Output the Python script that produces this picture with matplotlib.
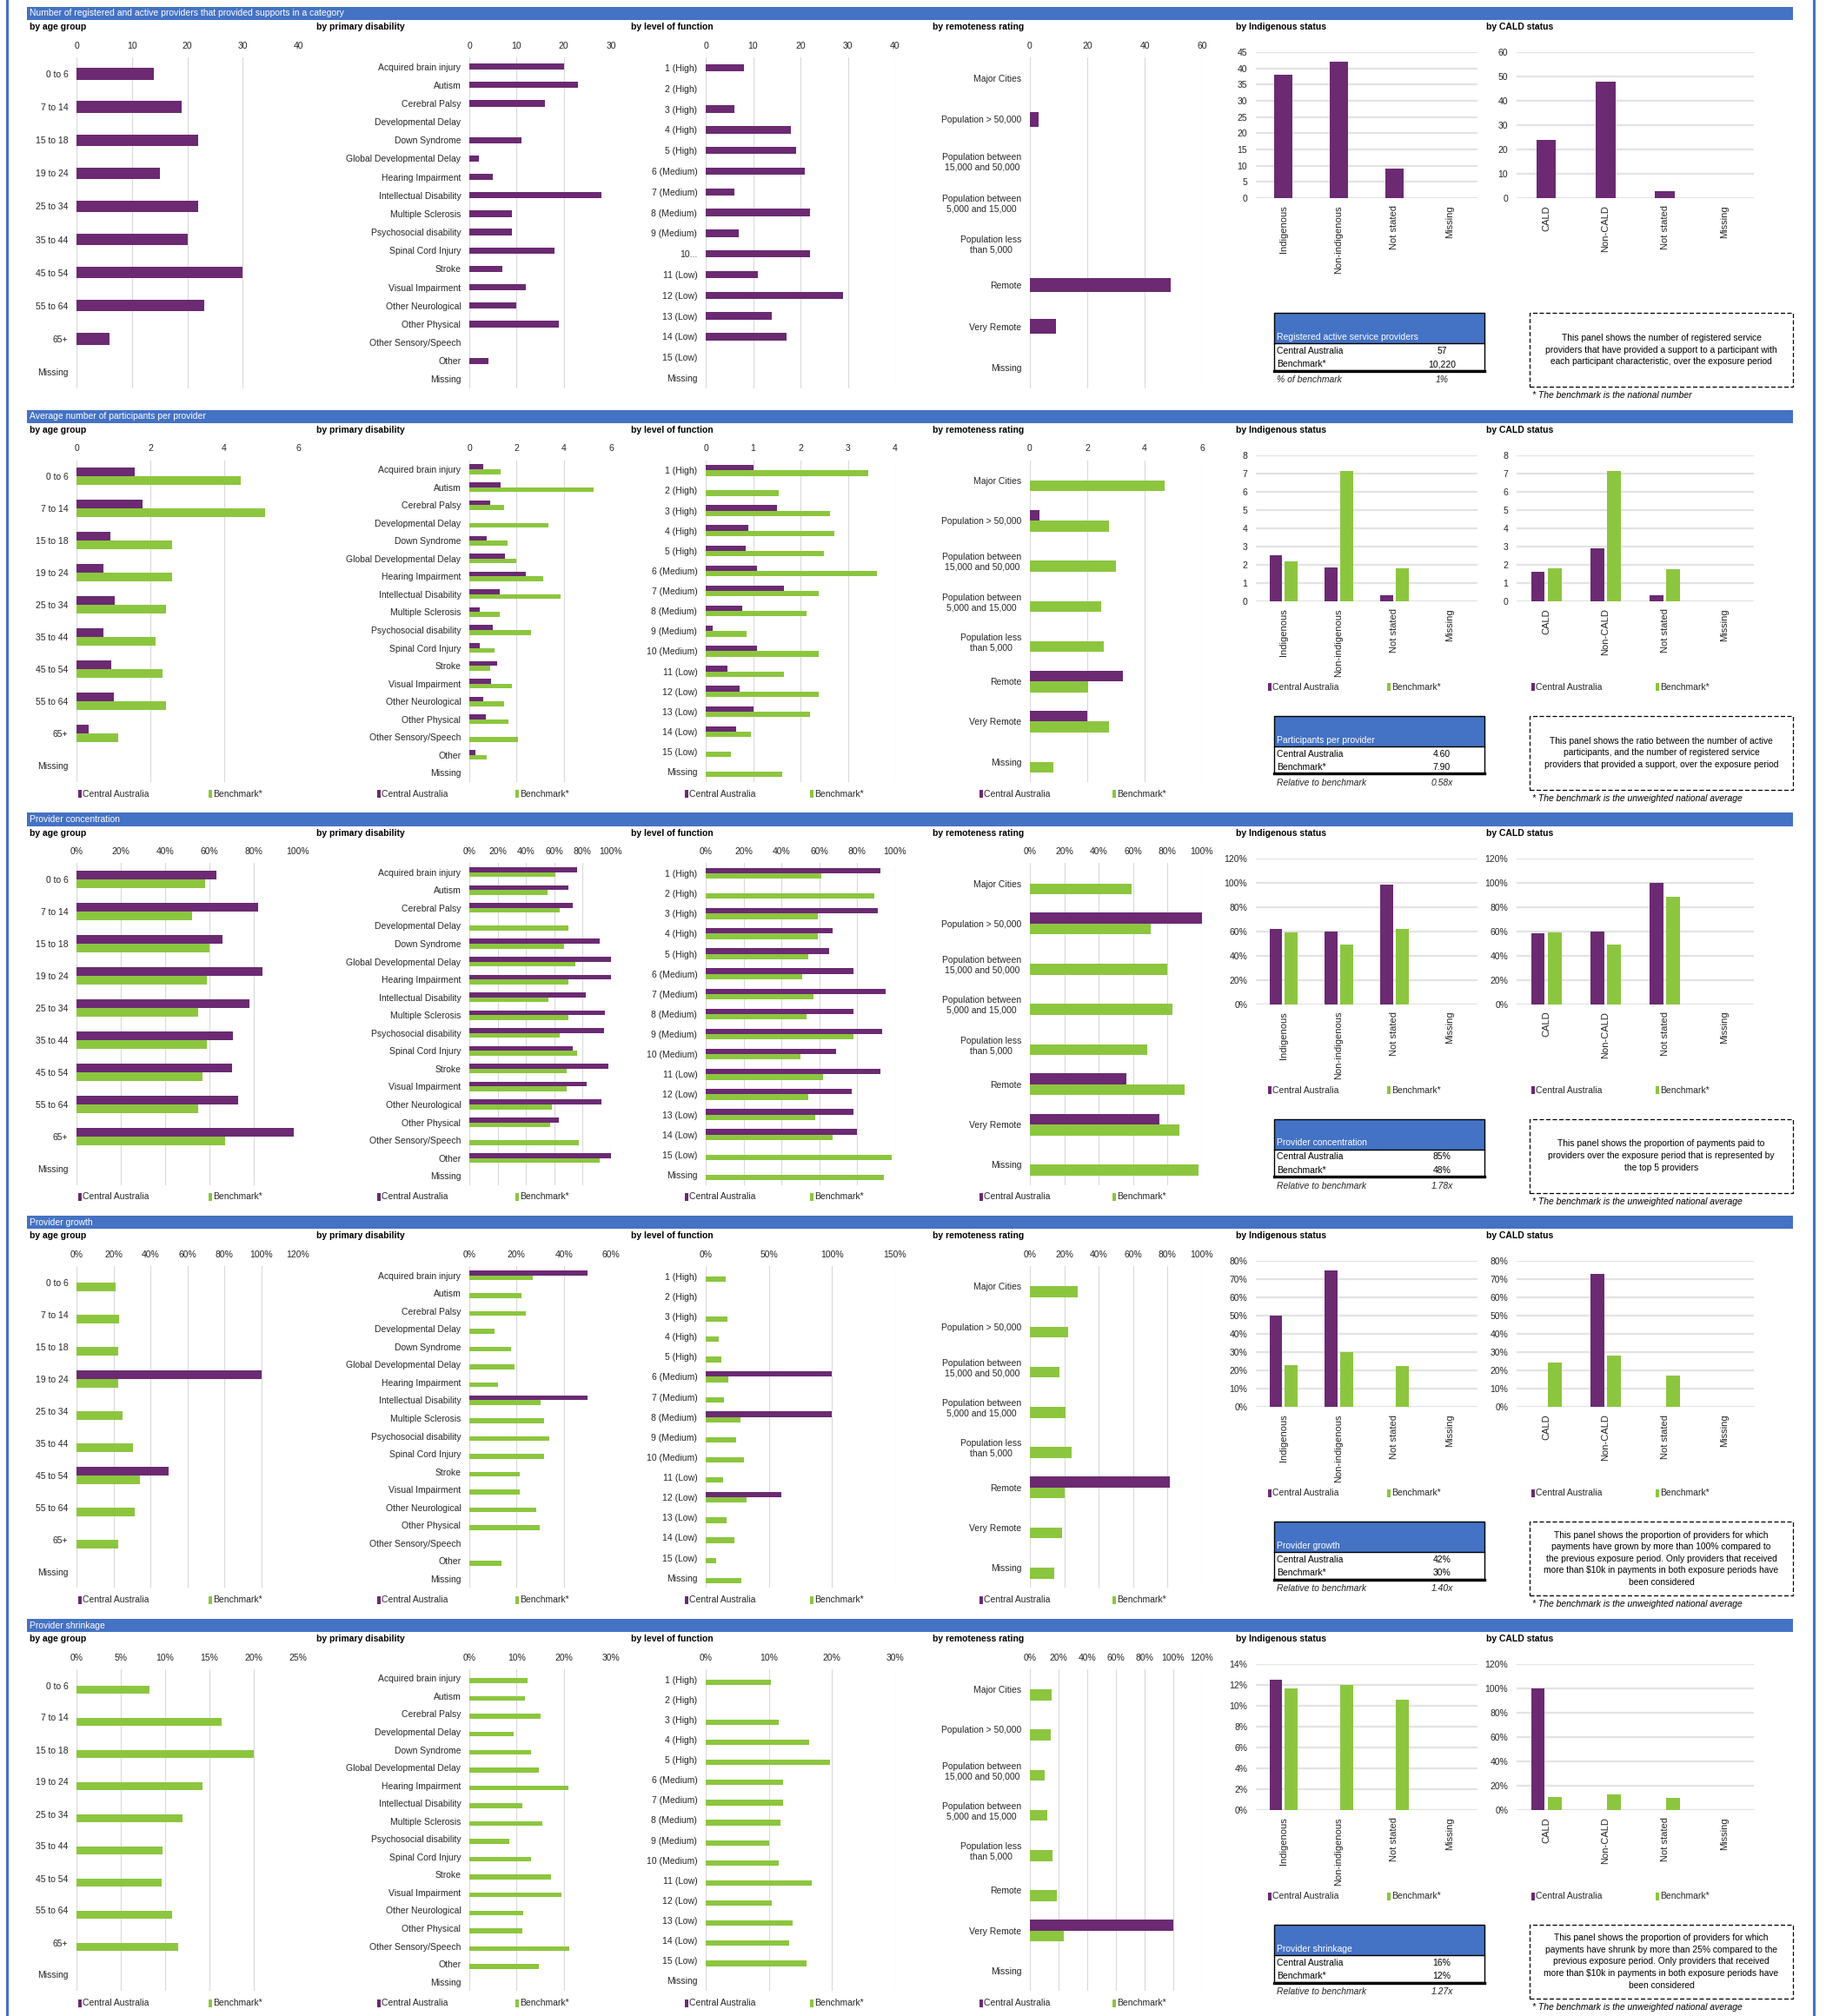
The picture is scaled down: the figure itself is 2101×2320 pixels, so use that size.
import numpy as np
import matplotlib.pyplot as plt
from matplotlib.patches import Rectangle
from matplotlib.lines import Line2D

plt.rcParams['font.family'] = ['Liberation Sans', 'DejaVu Sans']

W, H = 2101, 2320
PURPLE = '#6B2A72'
GREEN = '#8CC63F'
BLUE = '#4472C4'
GRID = '#D9D9D9'
TXT = '#262626'
FS = 7.5

# categories
AGE = ["0 to 6", "7 to 14", "15 to 18", "19 to 24", "25 to 34", "35 to 44",
       "45 to 54", "55 to 64", "65+", "Missing"]
DISABILITY = ["Acquired brain injury", "Autism", "Cerebral Palsy", "Developmental Delay",
              "Down Syndrome", "Global Developmental Delay", "Hearing Impairment",
              "Intellectual Disability", "Multiple Sclerosis", "Psychosocial disability",
              "Spinal Cord Injury", "Stroke", "Visual Impairment", "Other Neurological",
              "Other Physical", "Other Sensory/Speech", "Other", "Missing"]
LEVEL = ["1 (High)", "2 (High)", "3 (High)", "4 (High)", "5 (High)", "6 (Medium)",
         "7 (Medium)", "8 (Medium)", "9 (Medium)", "10 (Medium)", "11 (Low)", "12 (Low)",
         "13 (Low)", "14 (Low)", "15 (Low)", "Missing"]
LEVEL_ROW1 = ["1 (High)", "2 (High)", "3 (High)", "4 (High)", "5 (High)", "6 (Medium)",
              "7 (Medium)", "8 (Medium)", "9 (Medium)", "10...", "11 (Low)", "12 (Low)",
              "13 (Low)", "14 (Low)", "15 (Low)", "Missing"]
REMOTENESS = ["Major Cities", "Population > 50,000", "Population between\n15,000 and 50,000",
              "Population between\n5,000 and 15,000", "Population less\nthan 5,000",
              "Remote", "Very Remote", "Missing"]
INDIGENOUS = ["Indigenous", "Non-indigenous", "Not stated", "Missing"]
CALD = ["CALD", "Non-CALD", "Not stated", "Missing"]

# row 1 - number of registered and active providers
R1_AGE = [14, 19, 22, 15, 22, 20, 30, 23, 6, 0]
R1_DIS = [20, 23, 16, 0, 11, 2, 5, 28, 9, 9, 18, 7, 12, 10, 19, 0, 4, 0]
R1_LVL = [8, 0, 6, 18, 19, 21, 6, 22, 7, 22, 11, 29, 14, 17, 0, 0]
R1_REM = [0, 3, 0, 0, 0, 49, 9, 0]
R1_IND = [38, 42, 9, 0]
R1_CALD = [24, 48, 3, 0]

# row 2 - average participants per provider
R2_AGE_CA = [1.57, 1.79, 0.91, 0.72, 1.04, 0.74, 0.93, 1.0, 0.33, 0]
R2_AGE_BM = [4.45, 5.1, 2.58, 2.58, 2.42, 2.14, 2.33, 2.42, 1.12, 0]
R2_DIS_CA = [0.6, 1.33, 0.88, 0, 0.73, 1.51, 2.4, 1.28, 0.44, 1.0, 0.44, 1.16, 0.91, 0.6, 0.69, 0, 0.25, 0]
R2_DIS_BM = [1.33, 5.28, 1.48, 3.36, 1.62, 2.0, 3.14, 3.85, 1.27, 2.6, 1.07, 0.87, 1.8, 1.48, 1.65, 2.05, 0.74, 0]
R2_LVL_CA = [1.0, 0, 1.5, 0.89, 0.84, 1.09, 1.65, 0.77, 0.15, 1.09, 0.46, 0.72, 1.0, 0.64, 0, 0]
R2_LVL_BM = [3.43, 1.54, 2.62, 2.72, 2.49, 3.62, 2.38, 2.12, 0.86, 2.38, 1.65, 2.38, 2.2, 0.96, 0.53, 1.62]
R2_REM_CA = [0, 0.33, 0, 0, 0, 3.23, 2.0, 0]
R2_REM_BM = [4.69, 2.77, 3.0, 2.48, 2.57, 2.04, 2.75, 0.83]
R2_IND_CA = [2.53, 1.85, 0.33, 0]
R2_IND_BM = [2.2, 7.15, 1.8, 0]
R2_CALD_CA = [1.6, 2.87, 0.33, 0]
R2_CALD_BM = [1.8, 7.15, 1.77, 0]

# row 3 - provider concentration (%)
R3_AGE_CA = [63, 82, 66, 84, 78, 70.5, 70, 73, 98, 0]
R3_AGE_BM = [58, 52, 60, 59, 55, 59, 57, 55, 67, 0]
R3_DIS_CA = [76, 70, 73, 0, 92, 100, 100, 82, 96, 95, 73, 98, 83, 93, 63, 0, 100, 0]
R3_DIS_BM = [61, 55, 64, 70, 67, 75, 70, 56, 70, 64, 76, 69, 69, 58, 57, 77, 92, 0]
R3_LVL_CA = [92, 0, 91, 67, 65, 78, 95, 78, 93, 69, 92, 77, 78, 80, 0, 0]
R3_LVL_BM = [61, 89, 59, 59, 54, 51, 57, 53, 78, 50, 62, 54, 58, 67, 98, 94]
R3_REM_CA = [0, 100, 0, 0, 0, 56, 75, 0]
R3_REM_BM = [59, 70, 80, 83, 68, 90, 87, 98]
R3_IND_CA = [62, 60, 98, 0]
R3_IND_BM = [59, 49, 62, 0]
R3_CALD_CA = [58, 60, 100, 0]
R3_CALD_BM = [59, 49, 88, 0]

# row 4 - provider growth (%)
R4_AGE_CA = [0, 0, 0, 100, 0, 0, 50, 0, 0, 0]
R4_AGE_BM = [21, 23, 22.5, 22.5, 25, 30.5, 34.5, 31.5, 22.5, 0]
R4_DIS_CA = [50, 0, 0, 0, 0, 0, 0, 50, 0, 0, 0, 0, 0, 0, 0, 0, 0, 0]
R4_DIS_BM = [27, 22, 24, 10.5, 17.7, 19.2, 12, 30, 31.5, 34, 31.5, 21.5, 21.5, 28.5, 29.7, 0, 13.6, 0]
R4_LVL_CA = [0, 0, 0, 0, 0, 100, 0, 100, 0, 0, 0, 60, 0, 0, 0, 0]
R4_LVL_BM = [16, 0, 17, 10, 12.5, 18, 14.4, 27.4, 24, 30, 14, 32, 16.5, 23, 8, 28.4]
R4_REM_CA = [0, 0, 0, 0, 0, 81.5, 0, 0]
R4_REM_BM = [28, 22, 17, 20.5, 24, 20, 18.5, 14]
R4_IND_CA = [50, 75, 0, 0]
R4_IND_BM = [23, 30, 22.5, 0]
R4_CALD_CA = [0, 73, 0, 0]
R4_CALD_BM = [24.5, 28, 17.3, 0]

# row 5 - provider shrinkage (%)
R5_AGE_CA = [0, 0, 0, 0, 0, 0, 0, 0, 0, 0]
R5_AGE_BM = [8.2, 16.4, 20, 14.2, 12, 9.7, 9.6, 10.8, 11.5, 0]
R5_DIS_CA = [0, 0, 0, 0, 0, 0, 0, 0, 0, 0, 0, 0, 0, 0, 0, 0, 0, 0]
R5_DIS_BM = [12.4, 11.7, 15, 9.4, 13, 14.7, 21, 11.2, 15.4, 8.5, 13.1, 17.3, 19.6, 11.4, 11.2, 21.2, 14.7, 0]
R5_LVL_CA = [0, 0, 0, 0, 0, 0, 0, 0, 0, 0, 0, 0, 0, 0, 0, 0]
R5_LVL_BM = [10.3, 0, 11.5, 16.4, 19.7, 12.3, 12.2, 11.9, 10, 11.5, 16.8, 10.5, 13.7, 13.2, 16, 0]
R5_REM_CA = [0, 0, 0, 0, 0, 0, 100, 0]
R5_REM_BM = [15.3, 14.5, 10, 12.4, 16, 18.5, 23.7, 0]
R5_IND_CA = [12.5, 0, 0, 0]
R5_IND_BM = [11.7, 12, 10.6, 0]
R5_CALD_CA = [100, 0, 0, 0]
R5_CALD_BM = [11, 13, 10.3, 0]

HEADERS = ["Number of registered and active providers that provided supports in a category",
           "Average number of participants per provider",
           "Provider concentration",
           "Provider growth",
           "Provider shrinkage"]

# summary boxes: title, Central Australia, Benchmark, ratio label, ratio
SUMMARY_TITLES = ["Registered active service providers", "Participants per provider",
                  "Provider concentration", "Provider growth", "Provider shrinkage"]
SUMMARY_CA = ["57", "4.60", "85%", "42%", "16%"]
SUMMARY_BM = ["10,220", "7.90", "48%", "30%", "12%"]
SUMMARY_RATIO_LABEL = ["% of benchmark", "Relative to benchmark", "Relative to benchmark",
                       "Relative to benchmark", "Relative to benchmark"]
SUMMARY_RATIO = ["1%", "0.58x", "1.78x", "1.40x", "1.27x"]

NOTES = [
    "This panel shows the number of registered service\nproviders that have provided a support to a participant with\neach participant characteristic, over the exposure period",
    "This panel shows the ratio between the number of active\nparticipants, and the number of registered service\nproviders that provided a support, over the exposure period",
    "This panel shows the proportion of payments paid to\nproviders over the exposure period that is represented by\nthe top 5 providers",
    "This panel shows the proportion of providers for which\npayments have grown by more than 100% compared to\nthe previous exposure period. Only providers that received\nmore than \\$10k in payments in both exposure periods have\nbeen considered",
    "This panel shows the proportion of providers for which\npayments have shrunk by more than 25% compared to the\nprevious exposure period. Only providers that received\nmore than \\$10k in payments in both exposure periods have\nbeen considered",
]
FOOTNOTES = ["* The benchmark is the national number"] + ["* The benchmark is the unweighted national average"] * 4

fig = plt.figure(figsize=(W / 100, H / 100), dpi=100)


def fx(x):
    return x / W


def fy(y):
    return 1 - y / H


def add_axes(x0, y0, x1, y1):
    return fig.add_axes([x0 / W, 1 - y1 / H, (x1 - x0) / W, (y1 - y0) / H])


def ftext(x, y, s, **kw):
    kw.setdefault('fontsize', FS)
    kw.setdefault('color', TXT)
    fig.text(fx(x), fy(y), s, **kw)


def frect(x0, y0, x1, y1, **kw):
    fig.patches.append(Rectangle((fx(x0), fy(y1)), (x1 - x0) / W, (y1 - y0) / H,
                                 transform=fig.transFigure, **kw))


def fline(x0, y0, x1, y1, **kw):
    fig.lines.append(Line2D([fx(x0), fx(x1)], [fy(y0), fy(y1)], transform=fig.transFigure, **kw))


def fmt(v, pct):
    return f"{v:.0f}%" if pct else f"{v:g}"


def clean(ax):
    for s in ax.spines.values():
        s.set_visible(False)
    ax.set_axisbelow(True)
    ax.tick_params(length=0, labelsize=FS, colors=TXT)


def hbar(x0, x1, top, bottom, labels, ca, bm, xmax, step, pct):
    ax = add_axes(x0, top, x1, bottom)
    y = np.arange(len(labels))
    if bm is None:
        ax.barh(y, ca, height=0.35, color=PURPLE)
    else:
        ax.barh(y - 0.135, ca, height=0.27, color=PURPLE)
        ax.barh(y + 0.135, bm, height=0.27, color=GREEN)
    ax.set_ylim(len(labels) - 0.5, -0.5)
    ax.set_xlim(0, xmax)
    ticks = np.arange(0, xmax + step / 2, step)
    ax.set_xticks(ticks, [fmt(t, pct) for t in ticks])
    ax.set_yticks(y, labels)
    for lab in ax.get_yticklabels():
        lab.set_multialignment('center')
    ax.xaxis.tick_top()
    ax.grid(axis='x', color=GRID, lw=0.8)
    clean(ax)
    ax.tick_params(axis='x', pad=6)
    ax.tick_params(axis='y', pad=7)
    return ax


def vbar(x0, x1, top, bottom, labels, ca, bm, ymax, step, pct):
    ax = add_axes(x0, top, x1, bottom)
    x = np.arange(len(labels))
    if bm is None:
        ax.bar(x, ca, width=0.33, color=PURPLE)
    else:
        ax.bar(x - 0.14, ca, width=0.23, color=PURPLE)
        ax.bar(x + 0.14, bm, width=0.23, color=GREEN)
    ax.set_xlim(-0.5, len(labels) - 0.5)
    ax.set_ylim(0, ymax)
    ticks = np.arange(0, ymax + step / 2, step)
    ax.set_yticks(ticks, [fmt(t, pct) for t in ticks])
    ax.set_xticks(x, labels, rotation=90, va='top')
    ax.grid(axis='y', color='#E3E3E3', lw=1.6)
    clean(ax)
    ax.tick_params(axis='x', pad=6, labelsize=8)
    ax.tick_params(axis='y', pad=7)
    return ax


def legend_pair(xa, xb, y):
    for x, c, s in ((xa, PURPLE, 'Central Australia'), (xb, GREEN, 'Benchmark*')):
        frect(x, y - 4.5, x + 4, y + 4.5, color=c, lw=0)
        ftext(x + 5, y, s, va='center')


# axis ranges per row: (max, step)
AXES = [
    dict(age=(40, 10), dis=(30, 10), lvl=(40, 10), rem=(60, 20), ind=(45, 5), cald=(60, 10), pct=False),
    dict(age=(6, 2), dis=(6, 2), lvl=(4, 1), rem=(6, 2), ind=(8, 1), cald=(8, 1), pct=False),
    dict(age=(100, 20), dis=(100, 20), lvl=(100, 20), rem=(100, 20), ind=(120, 20), cald=(120, 20), pct=True),
    dict(age=(120, 20), dis=(60, 20), lvl=(150, 50), rem=(100, 20), ind=(80, 10), cald=(80, 10), pct=True),
    dict(age=(25, 5), dis=(30, 10), lvl=(30, 10), rem=(120, 20), ind=(14, 2), cald=(120, 20), pct=True),
]

ROW_DATA = [
    (R1_AGE, None, R1_DIS, None, R1_LVL, None, R1_REM, None, R1_IND, None, R1_CALD, None),
    (R2_AGE_CA, R2_AGE_BM, R2_DIS_CA, R2_DIS_BM, R2_LVL_CA, R2_LVL_BM, R2_REM_CA, R2_REM_BM,
     R2_IND_CA, R2_IND_BM, R2_CALD_CA, R2_CALD_BM),
    (R3_AGE_CA, R3_AGE_BM, R3_DIS_CA, R3_DIS_BM, R3_LVL_CA, R3_LVL_BM, R3_REM_CA, R3_REM_BM,
     R3_IND_CA, R3_IND_BM, R3_CALD_CA, R3_CALD_BM),
    (R4_AGE_CA, R4_AGE_BM, R4_DIS_CA, R4_DIS_BM, R4_LVL_CA, R4_LVL_BM, R4_REM_CA, R4_REM_BM,
     R4_IND_CA, R4_IND_BM, R4_CALD_CA, R4_CALD_BM),
    (R5_AGE_CA, R5_AGE_BM, R5_DIS_CA, R5_DIS_BM, R5_LVL_CA, R5_LVL_BM, R5_REM_CA, R5_REM_BM,
     R5_IND_CA, R5_IND_BM, R5_CALD_CA, R5_CALD_BM),
]

# outer frame lines
fline(8, 0, 8, H, color=BLUE, lw=2.2)
fline(2087, 0, 2087, H, color=BLUE, lw=2.2)

for i in range(5):
    T = 8 + i * 463.75
    a = AXES[i]
    pct = a['pct']
    (age_ca, age_bm, dis_ca, dis_bm, lvl_ca, lvl_bm,
     rem_ca, rem_bm, ind_ca, ind_bm, cald_ca, cald_bm) = ROW_DATA[i]

    # section header bar
    frect(31, T, 2063, T + 15, color=BLUE, lw=0)
    ftext(34, T + 7.5, HEADERS[i], color='white', va='center')

    # panel titles
    for x, s in ((34, "by age group"), (364, "by primary disability"), (726, "by level of function"),
                 (1073, "by remoteness rating"), (1422, "by Indigenous status"), (1710, "by CALD status")):
        ftext(x, T + 23, s, va='center', fontweight='bold', color='black')

    bottom = T + 439 if i == 0 else T + 428
    hbar(88, 343, T + 58, bottom, AGE, age_ca, age_bm, *a['age'], pct)
    hbar(540, 703, T + 58, bottom, DISABILITY, dis_ca, dis_bm, *a['dis'], pct)
    hbar(812, 1030, T + 58, bottom, LEVEL_ROW1 if i == 0 else LEVEL, lvl_ca, lvl_bm, *a['lvl'], pct)
    hbar(1185, 1383, T + 58, bottom, REMOTENESS, rem_ca, rem_bm, *a['rem'], pct)
    vbar(1445, 1700, T + 52, T + 220, INDIGENOUS, ind_ca, ind_bm, *a['ind'], pct)
    vbar(1745, 2018, T + 52, T + 220, CALD, cald_ca, cald_bm, *a['cald'], pct)

    if i > 0:
        for xa, xb in ((90, 240), (434, 593), (788, 932), (1127, 1280)):
            legend_pair(xa, xb, T + 442)
        for xa, xb in ((1459, 1596), (1762, 1905)):
            legend_pair(xa, xb, T + 319)

    # summary box
    frect(1466, T + 352, 1708, T + 387, color=BLUE, lw=0)
    frect(1466, T + 352, 1708, T + 418, fill=False, edgecolor='black', lw=1)
    fline(1466, T + 387, 1708, T + 387, color='black', lw=1)
    fline(1466, T + 418.5, 1708, T + 418.5, color='black', lw=2.4)
    ftext(1469, T + 380, SUMMARY_TITLES[i], color='white', va='center')
    ftext(1469, T + 396, "Central Australia", va='center', color='black')
    ftext(1469, T + 411, "Benchmark*", va='center', color='black')
    ftext(1659, T + 396, SUMMARY_CA[i], va='center', ha='center', color='black')
    ftext(1659, T + 411, SUMMARY_BM[i], va='center', ha='center', color='black')
    ftext(1469, T + 429, SUMMARY_RATIO_LABEL[i], va='center', style='italic')
    ftext(1659, T + 429, SUMMARY_RATIO[i], va='center', ha='center', style='italic')

    # explanation box
    frect(1760, T + 352, 2063, T + 437, fill=False, edgecolor='black', lw=0.9, ls=(0, (4, 2)))
    ftext(1911.5, T + 394.5, NOTES[i], va='center', ha='center', multialignment='center',
          linespacing=1.45, color='black', fontsize=7.4)
    ftext(1763, T + 447, FOOTNOTES[i], va='center', style='italic', color='black')

fig.savefig("out.png", dpi=100)
